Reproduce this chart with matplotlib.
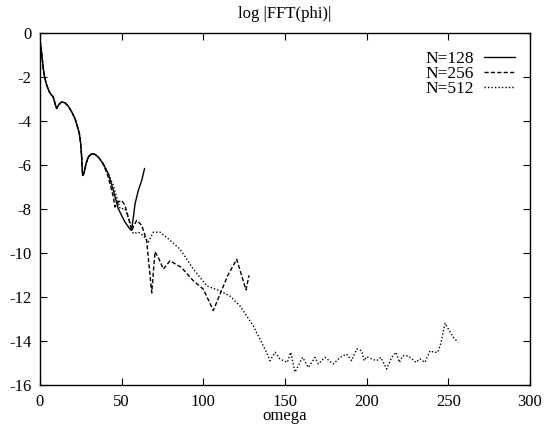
import numpy as np
import matplotlib
matplotlib.use('Agg')
import matplotlib.pyplot as plt

# shared low-frequency part (all three resolutions agree here)
omega_low = [0, 1, 2, 3, 4.1, 5.7, 7.1, 8.1, 9.2, 10.2, 11.2, 13.2, 15.3, 17.3, 19.4,
             21.4, 22.8, 24.1, 24.9, 25.5, 26.1, 26.9, 28.2, 29.6, 31.6, 33.6, 35.6, 38.6]
logfft_low = [-0.3, -0.9, -1.6, -2.05, -2.36, -2.66, -2.81, -2.89, -3.19, -3.42, -3.27,
              -3.12, -3.16, -3.31, -3.57, -3.87, -4.22, -4.56, -5.01, -5.62, -6.46, -6.38,
              -5.92, -5.62, -5.47, -5.5, -5.62, -5.92]

# N=128
omega_128 = [41.8, 44.9, 47.9, 52, 55.1, 56.1, 58.2, 60.2, 62.3, 64]
logfft_128 = [-6.38, -7.14, -7.97, -8.58, -8.9, -8.96, -7.75, -7.14, -6.68, -6.15]

# N=256
omega_256 = [41.8, 44.9, 45.9, 47.9, 50, 52, 54, 56.1, 59.2, 62.3, 65.3, 68.4, 70.4,
             72.5, 75.5, 79.6, 86.7, 93.9, 100, 106.1, 110.2, 115, 120.4, 126.1, 128]
logfft_256 = [-6.53, -7.44, -7.9, -7.67, -7.6, -7.82, -8.35, -8.96, -8.5, -8.73, -9.42,
              -11.8, -9.93, -10.2, -10.72, -10.34, -10.65, -11.25, -11.63, -12.6, -11.86,
              -11.0, -10.27, -11.66, -11.0]

# N=512
omega_512 = [41.8, 44.9, 46.9, 49, 52, 55.1, 57.1, 60.2, 63.2, 66.3, 69.4, 73.5, 77.6,
             85.7, 93.9, 102.1, 110.2, 116.3, 122.4, 130.6, 138.8, 140.8, 143.9, 146.9,
             151.4, 153.5, 156.1, 160.8, 164.3, 168.4, 170.4, 174.5, 179.6, 183.7, 187.7,
             190.8, 193.9, 196.9, 198.4, 200, 203, 206.1, 208.6, 212.3, 215.3, 218, 220,
             222.1, 225.5, 230.2, 232.6, 235.7, 238.8, 241.2, 243.5, 245.3, 248, 250,
             253.1, 256]
logfft_512 = [-6.38, -6.91, -7.44, -7.97, -7.97, -8.58, -9.1, -9.04, -9.19, -9.49, -9.04,
              -9.04, -9.28, -9.81, -10.72, -11.48, -11.71, -11.94, -12.39, -13.3, -14.52,
              -14.88, -14.5, -14.8, -14.96, -14.5, -15.4, -14.73, -15.19, -14.73, -15.03,
              -14.73, -15.03, -14.73, -14.58, -14.88, -14.35, -14.43, -14.88, -14.7, -14.8,
              -14.88, -14.73, -15.26, -14.73, -14.5, -14.96, -14.66, -14.66, -14.96, -14.8,
              -14.96, -14.43, -14.5, -14.5, -14.12, -13.18, -13.44, -13.82, -14.05]

plt.rcParams['font.family'] = 'Liberation Serif'
plt.rcParams['font.size'] = 12
plt.rcParams['axes.unicode_minus'] = False

fig = plt.figure(figsize=(5.44, 4.25), dpi=100)
ax = fig.add_axes([40/544, 1-385.3/425, 490/544, 352/425])

ax.plot(omega_low + omega_128, logfft_low + logfft_128, color='black', lw=1.0,
        label='N=128')
ax.plot(omega_low + omega_256, logfft_low + logfft_256, color='black', lw=1.0,
        ls=(0, (3, 1.6)), label='N=256')
ax.plot(omega_low + omega_512, logfft_low + logfft_512, color='black', lw=1.0,
        ls=(0, (1, 1.5)), label='N=512')

ax.set_xlim(0, 300)
ax.set_ylim(-16, 0)
ax.set_xticks(np.arange(0, 301, 50))
ax.set_yticks(np.arange(-16, 1, 2))
ax.tick_params(direction='in', top=True, right=True, length=5, width=0.8, pad=6)
for s in ax.spines.values():
    s.set_linewidth(1.0)

ax.set_title('log |FFT(phi)|', fontsize=12, pad=11)
ax.set_xlabel('omega', labelpad=-1)

ax.legend(loc='upper right', bbox_to_anchor=(0.97, 0.95), markerfirst=False,
          frameon=False, handlelength=1.8, handletextpad=0.6, labelspacing=-0.07,
          borderpad=0, borderaxespad=0, fontsize=12.5)

fig.savefig('out.png', dpi=100)
